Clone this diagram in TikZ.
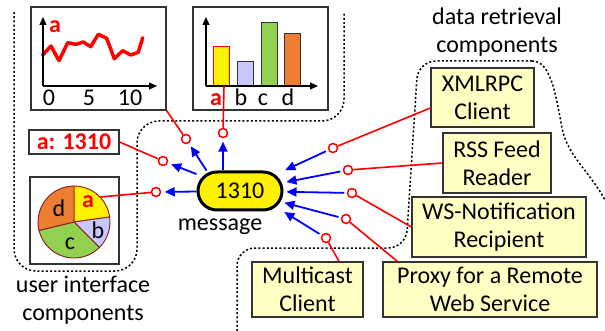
\documentclass[tikz,border=0pt]{standalone}
\usepackage{fontspec}
\setmainfont{Carlito}
\usetikzlibrary{arrows.meta}
\definecolor{compfill}{HTML}{FFFFC4}
\definecolor{barb}{HTML}{C8C8FF}
\definecolor{barc}{HTML}{92D050}
\definecolor{bard}{HTML}{ED7D31}
\definecolor{pieedge}{HTML}{8B1A1A}
\definecolor{edge}{HTML}{333333}
\definecolor{wirered}{HTML}{FF0000}
\definecolor{feedblue}{HTML}{0000FF}
\begin{document}
\begin{tikzpicture}[x=1pt,y=-1pt,
  every node/.style={font=\fontsize{24}{28}\selectfont, inner sep=0pt},
  region/.style={line width=1.5pt, dash pattern=on 2pt off 2.2pt},
  panel/.style={draw=edge, line width=1.2pt, fill=white},
  comp/.style={draw=edge, line width=1.2pt, fill=compfill, align=center},
  port/.style={circle, draw=wirered, fill=white, line width=1.5pt, minimum size=9pt},
  wire/.style={draw=wirered, line width=1.6pt},
  feed/.style={draw=feedblue, line width=1.8pt, -{Triangle[length=10pt,width=9pt]}},
  axis/.style={line width=1.2pt, -{Triangle[length=8pt,width=7pt]}},
  bar/.style={draw=edge, line width=1pt},
  slice/.style={draw=pieedge, line width=0.9pt},
  redlbl/.style={text=wirered, font=\fontsize{24}{28}\selectfont\bfseries},
]
\useasboundingbox (0,0) rectangle (605,331);

% component groups
\draw[region, rounded corners=22pt] (14,12) -- (14,271) -- (137,271) -- (137,121) -- (344,121) -- (344,12);
\draw[region, rounded corners=18pt] (237,331) -- (237,248) -- (406,248) -- (418,61) -- (532,61);
\draw[region] (532,61) .. controls (550,61) and (555,90) .. (562,128) .. controls (567,155) and (590,172) .. (605,200);
\node[align=center] (uilbl) at (83,300) {user interface\\components};
\node[align=center] (drlbl) at (497,32) {data retrieval\\components};

% line chart
\node[panel, minimum width=135pt, minimum height=103pt] (lc) at (98.5,58.5) {};
\draw[wirered, line width=3.5pt, line join=round, line cap=round]
  (42.7,55) -- (51,46) -- (59,60.7) -- (67.7,42.7) -- (76,44.3) -- (83.3,42) -- (90.7,46.7)
  -- (98.3,34.3) -- (106.7,38.3) -- (114.3,58.7) -- (122.7,50.7) -- (130.7,55) -- (138.3,52.3) -- (142.7,37.7);
\draw[axis] (43,86) -- (43,17);
\draw[axis] (43,86) -- (157,86);
\node[redlbl, anchor=base] (lca) at (55,33) {a};
\node[anchor=base] (lc0) at (49,106) {0};
\node[anchor=base] (lc5) at (89,106) {5};
\node[anchor=base] (lc10) at (130,106) {10};

% bar chart
\node[panel, minimum width=135pt, minimum height=103pt] (bc) at (260.5,58.5) {};
\node[bar, fill=yellow, draw=wirered, minimum width=16pt, minimum height=39pt, anchor=south] (bara) at (221,86) {};
\node[bar, fill=barb, minimum width=16pt, minimum height=24pt, anchor=south] (barb) at (245,86) {};
\node[bar, fill=barc, minimum width=16pt, minimum height=63pt, anchor=south] (barc) at (269,86) {};
\node[bar, fill=bard, minimum width=16pt, minimum height=52pt, anchor=south] (bard) at (292,86) {};
\draw[axis] (206,86) -- (206,17);
\draw[axis] (206,86) -- (318,86);
\node[redlbl, anchor=base] (bla) at (216,106) {a};
\node[anchor=base] (blb) at (241,106) {b};
\node[anchor=base] (blc) at (263,106) {c};
\node[anchor=base] (bld) at (288,106) {d};

% value display
\node[panel, redlbl, minimum width=90pt, minimum height=24pt] (val) at (74,142) {a: 1310};

% pie chart
\node[panel, minimum width=89pt, minimum height=87pt] (pc) at (74.5,220.5) {};
\coordinate (pie) at (74,222);
\filldraw[slice, fill=yellow] (pie) -- +(-90:36) arc[start angle=-90, end angle=-8, radius=36] -- cycle;
\filldraw[slice, fill=barb] (pie) -- +(-8:36) arc[start angle=-8, end angle=45, radius=36] -- cycle;
\filldraw[slice, fill=barc] (pie) -- +(45:36) arc[start angle=45, end angle=166.5, radius=36] -- cycle;
\filldraw[slice, fill=bard] (pie) -- +(166.5:36) arc[start angle=166.5, end angle=270, radius=36] -- cycle;
\path (pie) ++(-44:36) coordinate (pa);
\node[redlbl, anchor=base] (pla) at (88,208) {a};
\node[anchor=base] (pld) at (59,217) {d};
\node[anchor=base] (plb) at (98,238) {b};
\node[anchor=base] (plc) at (70,250) {c};

% message
\node[draw=black, line width=3pt, fill=yellow, rounded corners=19pt, minimum width=84pt, minimum height=38pt] (msg) at (240,191) {1310};
\node[anchor=base] (msglbl) at (220,231) {message};

% ports
\node[port] (plcp) at (186,139) {};
\node[port] (pbar) at (223,133) {};
\node[port] (pval) at (163,161) {};
\node[port] (ppie) at (156,192) {};
\node[port] (pxml) at (333,148) {};
\node[port] (prss) at (348,170) {};
\node[port] (pws) at (352,193) {};
\node[port] (ppx) at (346,219) {};
\node[port] (pmc) at (326,238) {};

% data retrieval components
\node[comp, minimum width=103pt, minimum height=59pt] (xml) at (482.5,97.5) {XMLRPC\\Client};
\node[comp, minimum width=108pt, minimum height=60pt] (rss) at (497,163) {RSS Feed\\Reader};
\node[comp, minimum width=174pt, minimum height=60pt] (ws) at (499,227) {WS-Notification\\Recipient};
\node[comp, minimum width=214pt, minimum height=55pt] (px) at (490,289.5) {Proxy for a Remote\\Web Service};
\node[comp, minimum width=111pt, minimum height=55pt] (mc) at (307.5,289.5) {Multicast\\Client};

% wires to ports
\draw[wire] (lc.south east) -- (plcp);
\draw[wire] ([xshift=3pt]bara.south) -- (pbar);
\draw[wire] (val.east) -- (pval);
\draw[wire] (pa) -- (ppie);
\draw[wire] ([yshift=-10.5pt]xml.west) -- (pxml);
\draw[wire] (rss.west) -- (prss);
\draw[wire] (ws.west) -- (pws);
\draw[wire] ([xshift=15pt]px.north west) -- (ppx);
\draw[wire] ([xshift=31.5pt]mc.north) -- (pmc);

% message flow
\draw[feed, shorten >=3.5pt] (msg) -- (ppie);
\draw[feed, shorten >=3.5pt] (msg) -- (pval);
\draw[feed, shorten >=3.5pt] ([xshift=10pt]msg.north west) -- (plcp);
\draw[feed, shorten >=3.5pt] (msg.north -| pbar) -- (pbar);
\draw[feed, shorten <=2.5pt, shorten >=2pt] (pxml) -- (msg);
\draw[feed, shorten <=2.5pt, shorten >=3pt] (prss) -- (msg);
\draw[feed, shorten <=2.5pt, shorten >=3pt] (pws) -- (msg);
\draw[feed, shorten <=2.5pt, shorten >=1pt] (ppx) -- (msg);
\draw[feed, shorten <=2.5pt, shorten >=1pt] (pmc) -- (msg.south east);
\end{tikzpicture}
\end{document}
